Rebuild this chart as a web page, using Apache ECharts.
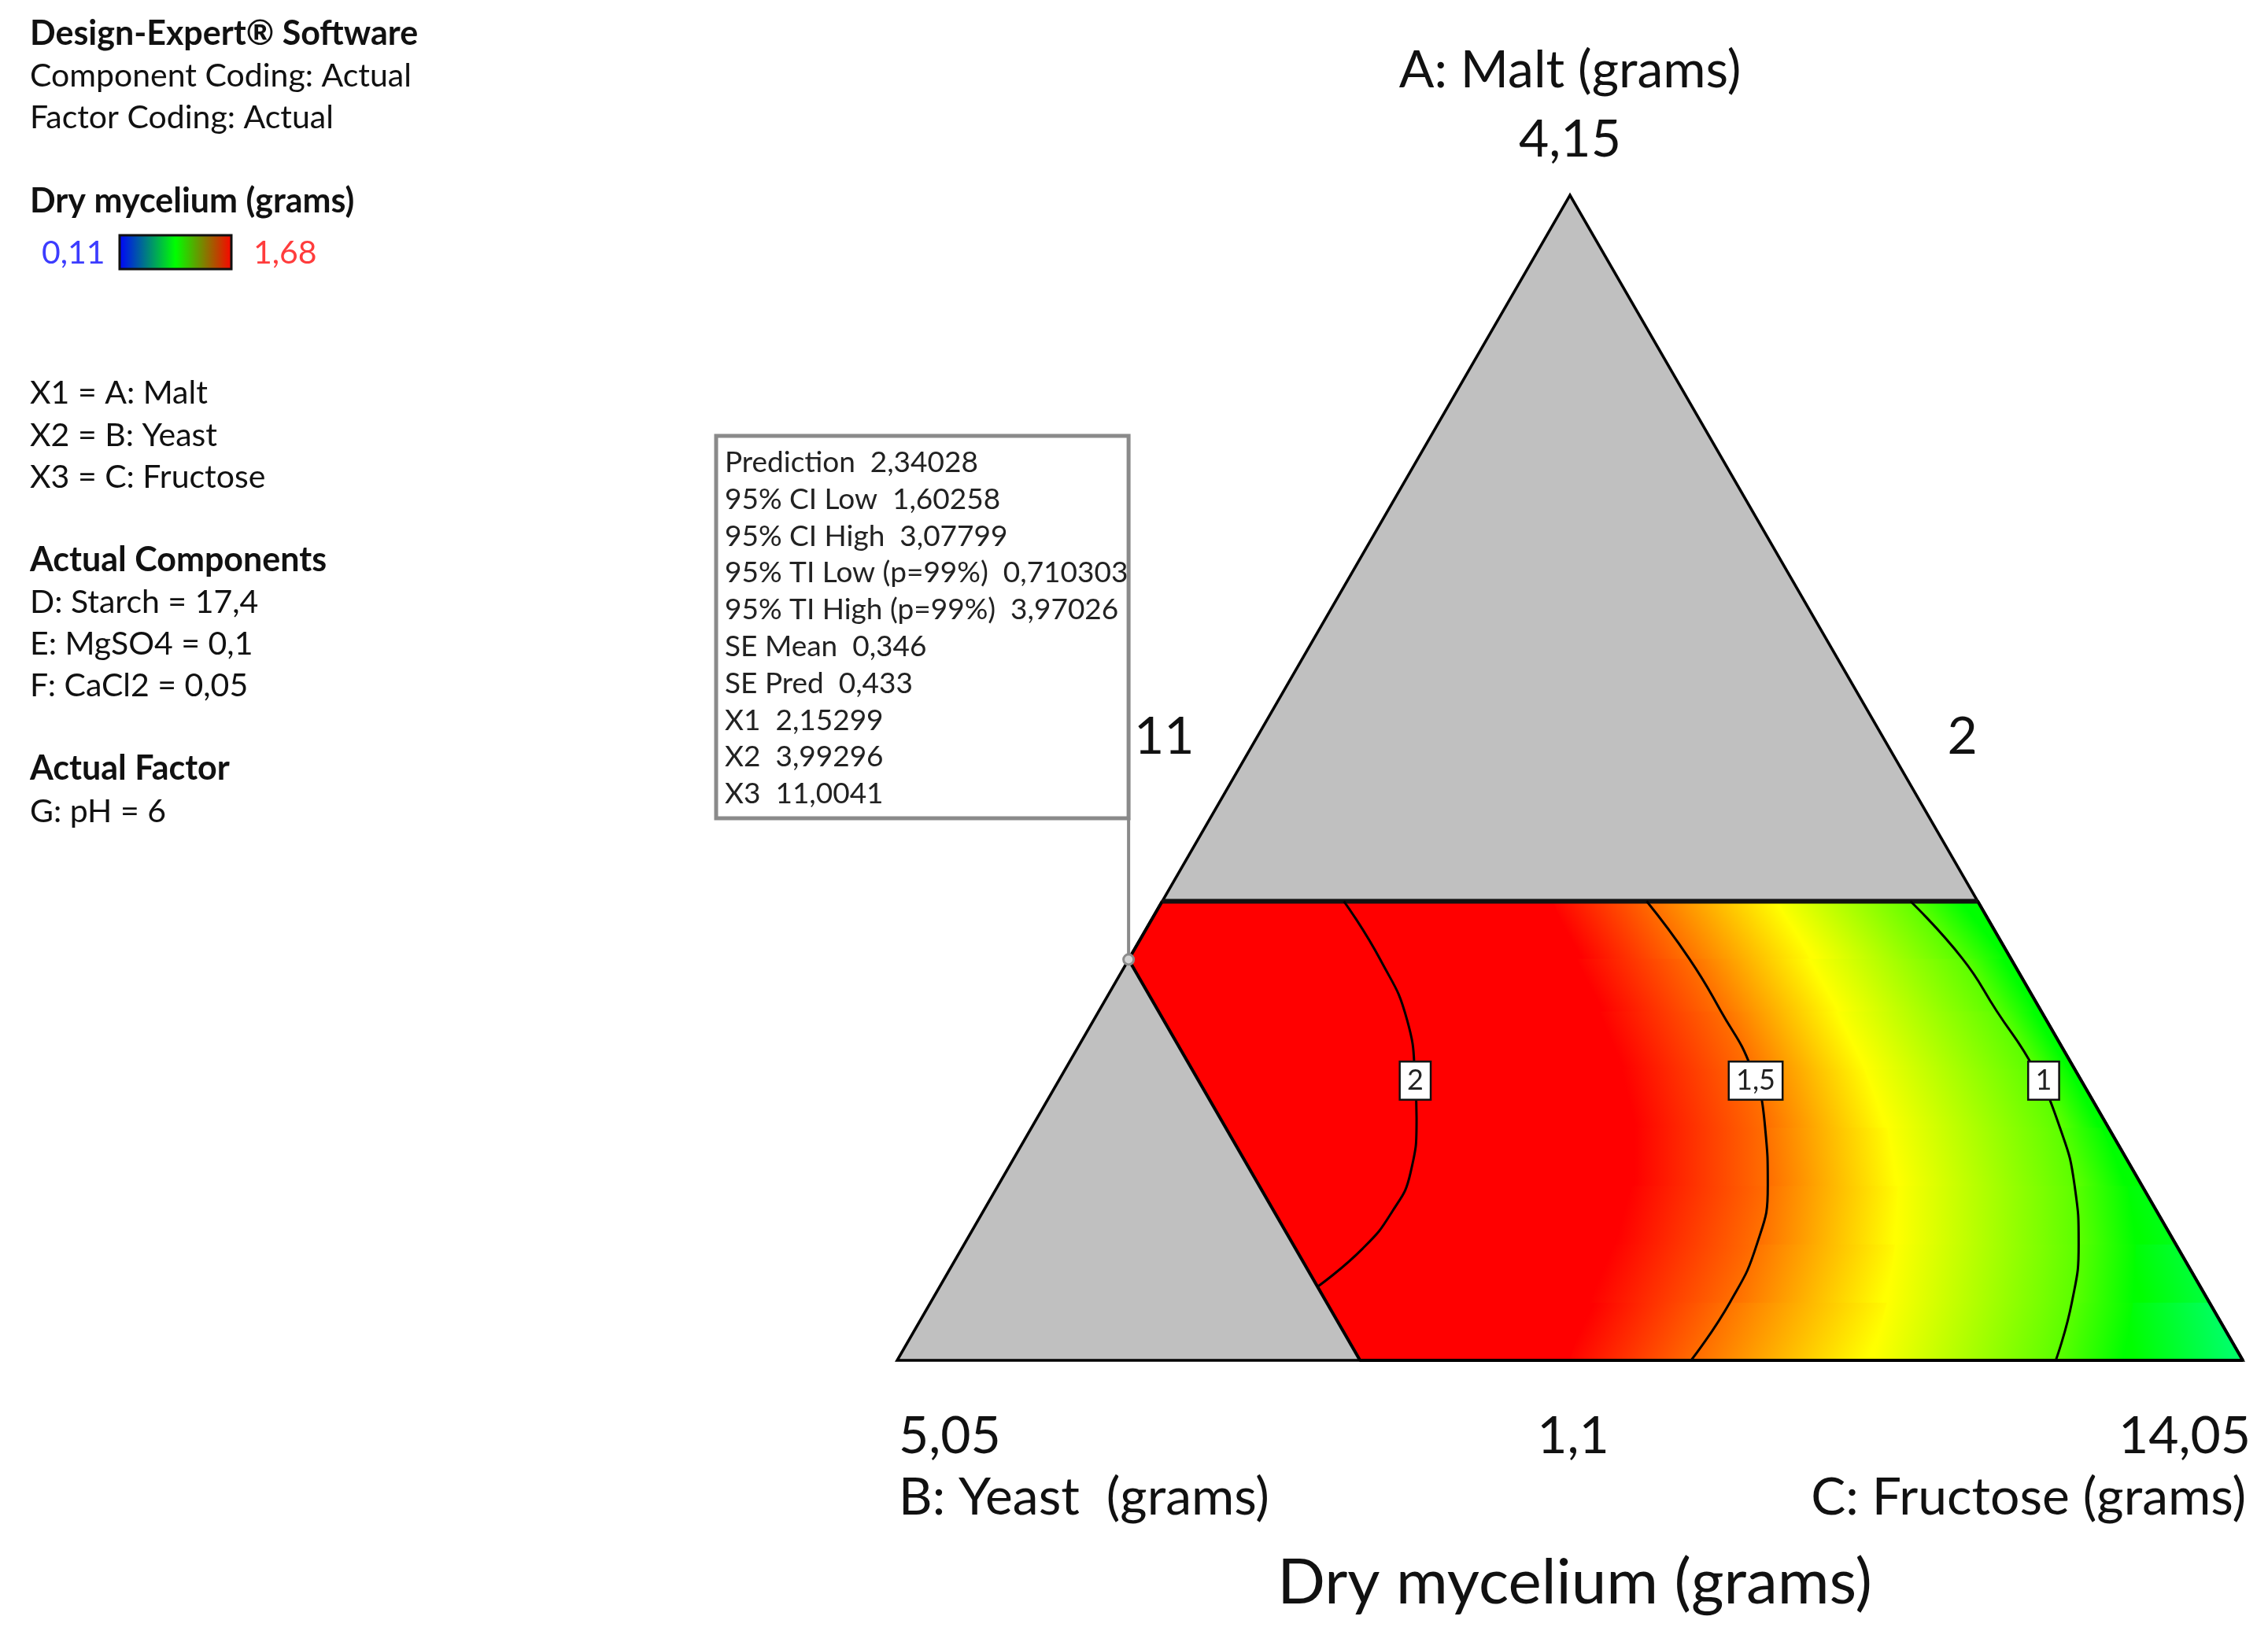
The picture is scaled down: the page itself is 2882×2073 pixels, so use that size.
<!DOCTYPE html>
<html lang="en">
<head>
<meta charset="UTF-8">
<title>Dry mycelium (grams)</title>
<script src="https://cdn.jsdelivr.net/npm/echarts@6/dist/echarts.min.js"></script>
<style>html, body { margin: 0; padding: 0; background: #fff; }</style>
</head>
<body>
<div id="chart" style="width: 2882px; height: 2073px;"></div>
<script>
  // constraint region, in pseudo-component fractions
  var aMax = 0.394;   // Malt upper limit
  var bMax = 0.656;   // Yeast upper limit

  var componentNames = ['A: Malt (grams)', 'B: Yeast  (grams)', 'C: Fructose (grams)'];
  var vertexValues = ['4,15', '5,05', '14,05'];
  var edgeValues = ['11', '2', '1,1'];   // A-B, A-C, B-C
  var responseName = 'Dry mycelium (grams)';
  var legendRange = ['0,11', '1,68'];

  // colour field: C fraction at each Malt level
  var levelsA    = [0, 0.05, 0.1, 0.15, 0.2, 0.25, 0.3, 0.345, 0.394];
  var redEdgeC   = [0.500, 0.490, 0.482, 0.472, 0.449, 0.413, 0.373, 0.333, 0.291]; // 1,68
  var contour15C = [0.590, 0.594, 0.589, 0.572, 0.545, 0.510, 0.462, 0.416, 0.360]; // 1,5
  var yellowC    = [0.725, 0.711, 0.692, 0.669, 0.636, 0.594, 0.549, 0.506, 0.458]; // ~1,29
  var contour1C  = [0.861, 0.848, 0.828, 0.800, 0.764, 0.720, 0.667, 0.619, 0.556]; // 1
  var greenEdgeC = [0.912, 0.894, 0.871, 0.840, 0.795, 0.745, 0.695, 0.650, 0.595]; // ~0,9

  // contour 2 as [A, C] points
  var contour2 = [[0.0635, 0.281], [0.096, 0.298], [0.127, 0.304], [0.161, 0.301], [0.208, 0.282],
                  [0.240, 0.265], [0.292, 0.233], [0.344, 0.187], [0.394, 0.135]];
  var contourValues = ['2', '1,5', '1'];
  var contourLabelAt = [[0.240, 0.265], [0.240, 0.518], [0.240, 0.732]];

  var predictionPoint = [0.344, 0];
  var predictionRows = [
    ['Prediction', '2,34028'], ['95% CI Low', '1,60258'], ['95% CI High', '3,07799'],
    ['95% TI Low (p=99%)', '0,710303'], ['95% TI High (p=99%)', '3,97026'],
    ['SE Mean', '0,346'], ['SE Pred', '0,433'],
    ['X1', '2,15299'], ['X2', '3,99296'], ['X3', '11,0041']
  ];

  var infoLines = [
    ['Design-Expert\u00ae Software', true], ['Component Coding: Actual', false], ['Factor Coding: Actual', false],
    ['Dry mycelium (grams)', true], null,
    ['X1 = A: Malt', false], ['X2 = B: Yeast', false], ['X3 = C: Fructose', false],
    ['Actual Components', true], ['D: Starch = 17,4', false], ['E: MgSO4 = 0,1', false], ['F: CaCl2 = 0,05', false],
    ['Actual Factor', true], ['G: pH = 6', false]
  ];
  var infoY = [43, 97, 150, 256, 322, 500, 554, 607, 712, 766, 819, 872, 977, 1032];

  var H = Math.sqrt(3) / 2;
  function toXY(a, c) { return [c + a / 2, a * H]; }

  var leftC = levelsA.map(function (a) { return Math.max(0, 1 - bMax - a); });
  var rightC = levelsA.map(function (a) { return 1 - a; });
  var curves = [leftC, redEdgeC, contour15C, yellowC, contour1C, greenEdgeC, rightC];
  var curveColors = ['#ff0000', '#ff0000', '#ff6e00', '#ffff00', '#5cff00', '#00ff00', null];
  var rightEdgeColors = ['#00ff80', '#00ff4c', '#00ff20', '#00ff08', '#00ff00', '#00ff00', '#00ff00', '#00ff00', '#00ff00'];

  function curveColor(k, i) {
    if (curveColors[k]) return curveColors[k];
    return echarts.color.lerp(0.5, [rightEdgeColors[i], rightEdgeColors[i + 1]]);
  }

  var bandCells = [];
  for (var i = 0; i < levelsA.length - 1; i++) {
    for (var k = 0; k < curves.length - 1; k++) bandCells.push([i, k]);
  }

  function renderBand(params, api) {
    var i = api.value(0), k = api.value(1);
    var p0 = api.coord(toXY(levelsA[i], curves[k][i]));
    var p1 = api.coord(toXY(levelsA[i + 1], curves[k][i + 1]));
    var q0 = api.coord(toXY(levelsA[i], curves[k + 1][i]));
    var q1 = api.coord(toXY(levelsA[i + 1], curves[k + 1][i + 1]));
    var dx = (p1[0] - p0[0]) + (q1[0] - q0[0]);
    var dy = (p1[1] - p0[1]) + (q1[1] - q0[1]);
    var len = Math.sqrt(dx * dx + dy * dy) || 1;
    var nx = -dy / len, ny = dx / len;
    var mx = (p0[0] + p1[0]) / 2, my = (p0[1] + p1[1]) / 2;
    var s = ((q0[0] + q1[0]) / 2 - mx) * nx + ((q0[1] + q1[1]) / 2 - my) * ny;
    if (Math.abs(s) < 1) s = s < 0 ? -1 : 1;
    var fill = {
      type: 'linear', global: true,
      x: mx, y: my, x2: mx + nx * s, y2: my + ny * s,
      colorStops: [{ offset: 0, color: curveColor(k, i) }, { offset: 1, color: curveColor(k + 1, i) }]
    };
    return { type: 'polygon', shape: { points: [p0, p1, q1, q0] }, style: { fill: fill, stroke: fill, lineWidth: 1.5 } };
  }

  var region = [[aMax, 0], [aMax, 1 - aMax], [0, 1], [0, 1 - bMax], [1 - bMax, 0], [aMax, 0]];

  function contourSeries(name, pts) {
    return {
      type: 'line', name: name, z: 4, symbol: 'none', smooth: 0.5, silent: true,
      data: pts, lineStyle: { color: '#000', width: 3 }
    };
  }

  var chart = echarts.init(document.getElementById('chart'));
  var option = {
    animation: false,
    grid: { left: 1140, top: 1729 - 1710 * H, width: 1710, height: 1710 * H },
    xAxis: { type: 'value', min: 0, max: 1, show: false },
    yAxis: { type: 'value', min: 0, max: H, show: false },
    series: [
      {
        type: 'custom', name: 'simplex', z: 1, silent: true,
        data: [[0, 0]],
        renderItem: function (params, api) {
          var pts = [toXY(1, 0), toXY(0, 0), toXY(0, 1)].map(function (p) { return api.coord(p); });
          return { type: 'polygon', shape: { points: pts }, style: { fill: '#c0c0c0', stroke: '#000', lineWidth: 3.5 } };
        }
      },
      { type: 'custom', name: 'response', z: 2, silent: true, data: bandCells, renderItem: renderBand },
      {
        type: 'line', name: 'region', z: 3, symbol: 'none', silent: true,
        data: region.map(function (p) { return toXY(p[0], p[1]); }),
        lineStyle: { color: '#000', width: 4 }
      },
      {
        type: 'line', name: 'top limit', z: 3, symbol: 'none', silent: true,
        data: [toXY(aMax, 0), toXY(aMax, 1 - aMax)],
        lineStyle: { color: '#111', width: 6 }
      },
      contourSeries('2', contour2.map(function (p) { return toXY(p[0], p[1]); })),
      contourSeries('1,5', levelsA.map(function (a, j) { return toXY(a, contour15C[j]); })),
      contourSeries('1', levelsA.map(function (a, j) { return toXY(a, contour1C[j]); })),
      {
        type: 'scatter', name: 'contour labels', z: 5, symbolSize: 0, silent: true,
        itemStyle: { opacity: 1 },
        data: contourLabelAt.map(function (p) { return toXY(p[0], p[1]); }),
        label: {
          show: true, position: 'inside', opacity: 1,
          formatter: function (p) { return contourValues[p.dataIndex]; },
          fontFamily: 'Lato', fontSize: 36, color: '#222',
          backgroundColor: '#ffffff', borderColor: '#111', borderWidth: 2.5,
          padding: [4, 8, 2, 8], lineHeight: 40
        }
      },
      {
        type: 'scatter', name: 'prediction', z: 6, silent: true,
        data: [toXY(predictionPoint[0], predictionPoint[1])],
        symbol: 'circle', symbolSize: 13,
        itemStyle: { opacity: 1, color: '#d4d4d4', borderColor: '#8c8c8c', borderWidth: 3 }
      }
    ]
  };
  chart.setOption(option);

  function px(a, c) { return chart.convertToPixel({ gridIndex: 0 }, toXY(a, c)); }
  function txt(t, x, y, font, align, fill) {
    return {
      type: 'text', z: 100, silent: true,
      style: { text: t, x: x, y: y, font: font, fill: fill || '#111',
               align: align, textAlign: align, verticalAlign: 'middle', textVerticalAlign: 'middle' }
    };
  }

  var apex = px(1, 0), vB = px(0, 0), vC = px(0, 1);
  var midAB = px(0.5, 0), midAC = px(0.5, 0.5), midBC = px(0, 0.5);
  var pp = px(predictionPoint[0], predictionPoint[1]);
  var big = '66px Lato';
  var g = [];

  g.push(txt(componentNames[0], apex[0], apex[1] - 158, big, 'center'));
  g.push(txt(vertexValues[0], apex[0], apex[1] - 70, big, 'center'));
  g.push(txt(edgeValues[0], midAB[0] - 50, midAB[1] - 52, big, 'right'));
  g.push(txt(edgeValues[1], midAC[0] + 52, midAC[1] - 52, big, 'left'));
  g.push(txt(edgeValues[2], midBC[0] + 4, midBC[1] + 97, big, 'center'));
  g.push(txt(vertexValues[1], vB[0] + 2, vB[1] + 97, big, 'left'));
  g.push(txt(vertexValues[2], vC[0] + 10, vC[1] + 97, big, 'right'));
  g.push(txt(componentNames[1], vB[0] + 2, vB[1] + 175, big, 'left'));
  g.push(txt(componentNames[2], vC[0] + 4, vC[1] + 175, big, 'right'));
  g.push(txt(responseName, midBC[0] + 6, midBC[1] + 283, '80px Lato', 'center'));

  // left information panel
  infoLines.forEach(function (ln, j) {
    if (!ln) return;
    g.push(txt(ln[0], 38, infoY[j], (ln[1] ? 'bold 43px' : '41px') + ' Lato', 'left'));
  });
  g.push(txt(legendRange[0], 53, infoY[4], '41px Lato', 'left', '#3c3cff'));
  g.push(txt(legendRange[1], 322, infoY[4], '41px Lato', 'left', '#ff3c3c'));
  g.push({
    type: 'rect', z: 100, silent: true,
    shape: { x: 152, y: 299, width: 142, height: 43 },
    style: {
      stroke: '#111', lineWidth: 3,
      fill: { type: 'linear', x: 0, y: 0, x2: 1, y2: 0,
              colorStops: [{ offset: 0, color: '#0000ff' }, { offset: 0.5, color: '#00ff00' }, { offset: 1, color: '#ff0000' }] }
    }
  });

  // prediction flag
  var boxL = 910, boxT = 554, boxB = 1040;
  g.push({
    type: 'rect', z: 99, silent: true,
    shape: { x: boxL, y: boxT, width: pp[0] - boxL, height: boxB - boxT },
    style: { fill: '#fff', stroke: '#8a8a8a', lineWidth: 5 }
  });
  g.push({
    type: 'line', z: 99, silent: true,
    shape: { x1: pp[0], y1: boxB, x2: pp[0], y2: pp[1] - 6 },
    style: { stroke: '#8a8a8a', lineWidth: 4 }
  });
  predictionRows.forEach(function (r, j) {
    g.push(txt(r[0] + '  ' + r[1], 921, 588 + 46.8 * j, '37px Lato', 'left', '#222'));
  });

  chart.setOption({ graphic: g });
</script>
</body>
</html>
